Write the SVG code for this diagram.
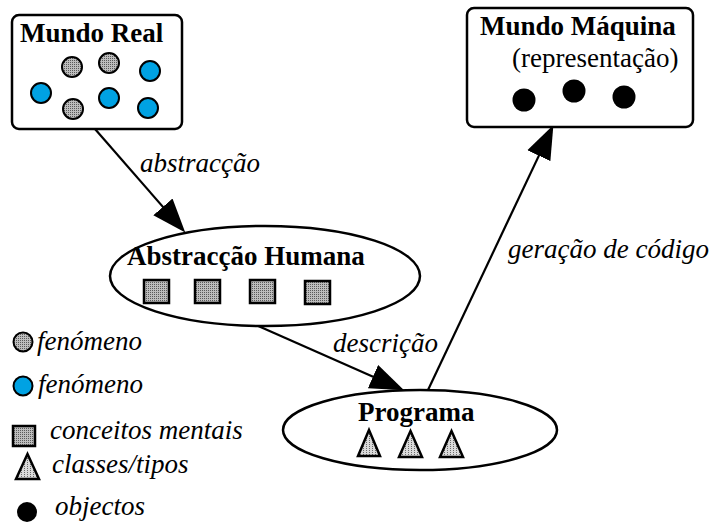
<svg xmlns="http://www.w3.org/2000/svg" width="712" height="523" viewBox="0 0 712 523">
<defs>
  <pattern id="dots" patternUnits="userSpaceOnUse" width="2" height="2">
    <rect width="2" height="2" fill="#bdbdbd"/>
    <rect width="1" height="1" fill="#5a5a5a"/>
  </pattern>
  <pattern id="dotsLight" patternUnits="userSpaceOnUse" width="3" height="2">
    <rect width="3" height="2" fill="#dadada"/>
    <rect width="1" height="1" fill="#6a6a6a"/>
  </pattern>
  <marker id="arrow" markerUnits="userSpaceOnUse" markerWidth="34" markerHeight="26" viewBox="0 0 32 24" refX="10" refY="12" orient="auto">
    <path d="M0,0 L32,12 L0,24 Z" fill="#000"/>
  </marker>
</defs>
<style>
  .box { fill: #fff; stroke: #000; stroke-width: 2.5; }
  .ell { fill: #fff; stroke: #000; stroke-width: 2.5; }
  .title { font-family: "Liberation Serif", "Times New Roman", serif; font-weight: bold; font-size: 27px; fill: #000; }
  .plain { font-family: "Liberation Serif", "Times New Roman", serif; font-size: 27px; fill: #000; }
  .lbl { font-family: "Liberation Serif", "Times New Roman", serif; font-style: italic; font-size: 27px; fill: #000; }
  .gray { fill: url(#dots); stroke: #000; stroke-width: 2; }
  .blue { fill: #00A2E3; stroke: #000; stroke-width: 2; }
  .sq { fill: url(#dots); stroke: #000; stroke-width: 2.5; }
  .tri { fill: url(#dotsLight); stroke: #000; stroke-width: 2.5; stroke-linejoin: miter; }
  .obj { fill: #000; }
  .conn { fill: none; stroke: #000; stroke-width: 2.2; marker-end: url(#arrow); }
</style>

<g id="connectors">
  <path class="conn" d="M95,129 L169.9,214.9"/>
  <path class="conn" d="M256,325 L382.7,380.9"/>
  <path class="conn" d="M428,390 L543.4,146.1"/>
  <text class="lbl" x="140" y="172">abstracção</text>
  <text class="lbl" x="333" y="352">descrição</text>
  <text class="lbl" x="508" y="258">geração de código</text>
</g>

<g id="mundo-real">
  <rect class="box" x="12" y="15" width="170" height="114" rx="7"/>
  <text class="title" x="20" y="42">Mundo Real</text>
  <circle class="gray" cx="72" cy="67" r="10"/>
  <circle class="gray" cx="109" cy="63" r="10"/>
  <circle class="blue" cx="150" cy="71" r="10"/>
  <circle class="blue" cx="41" cy="93" r="10"/>
  <circle class="gray" cx="73" cy="109" r="10"/>
  <circle class="blue" cx="109" cy="98" r="10"/>
  <circle class="blue" cx="148" cy="108" r="10"/>
</g>

<g id="mundo-maquina">
  <rect class="box" x="467" y="8" width="226" height="119" rx="7"/>
  <text class="title" x="480" y="35">Mundo Máquina</text>
  <text class="plain" x="512" y="67">(representação)</text>
  <circle class="obj" cx="524" cy="100" r="11.5"/>
  <circle class="obj" cx="574" cy="91" r="11.5"/>
  <circle class="obj" cx="624" cy="97" r="11.5"/>
</g>

<g id="abstraccao-humana">
  <ellipse class="ell" cx="265" cy="276" rx="155" ry="50"/>
  <text class="title" x="127" y="265">Abstracção Humana</text>
  <rect class="sq" x="144" y="280" width="25" height="23"/>
  <rect class="sq" x="195" y="280" width="25" height="23"/>
  <rect class="sq" x="250" y="280" width="25" height="23"/>
  <rect class="sq" x="305" y="281" width="25" height="23"/>
</g>

<g id="programa">
  <ellipse class="ell" cx="420" cy="430" rx="137" ry="40"/>
  <text class="title" x="358" y="421">Programa</text>
  <polygon class="tri" points="369,430 380,456 358,456"/>
  <polygon class="tri" points="410.5,431 422,457 399,457"/>
  <polygon class="tri" points="451.5,431 463,457 440,457"/>
</g>

<g id="legend">
  <circle class="gray" cx="23" cy="342" r="9.5"/>
  <text class="lbl" x="37" y="350">fenómeno</text>
  <circle class="blue" cx="23" cy="386" r="9.5"/>
  <text class="lbl" x="38" y="393">fenómeno</text>
  <rect class="sq" x="13" y="426" width="22" height="20"/>
  <text class="lbl" x="50" y="439">conceitos mentais</text>
  <polygon class="tri" points="27.5,454 39,479 16,479"/>
  <text class="lbl" x="52" y="473">classes/tipos</text>
  <circle class="obj" cx="27" cy="512" r="10"/>
  <text class="lbl" x="55" y="515">objectos</text>
</g>
</svg>
